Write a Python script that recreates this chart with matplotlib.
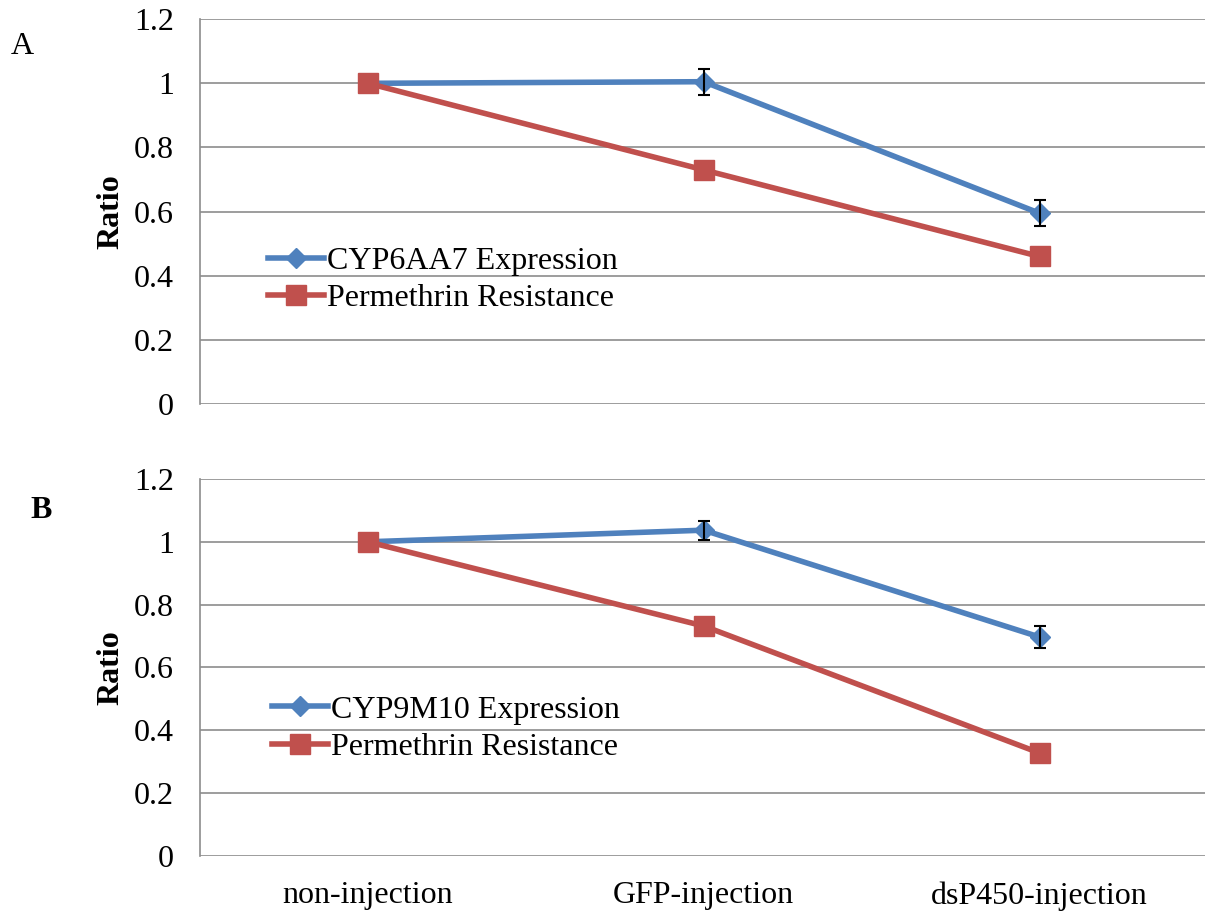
import matplotlib
matplotlib.use('Agg')
import matplotlib.pyplot as plt

plt.rcParams['font.family'] = ['Liberation Serif', 'DejaVu Serif']

categories = ['non-injection', 'GFP-injection', 'dsP450-injection']

# panel A
expr_a      = [1.0, 1.005, 0.595]
expr_a_err  = [0.0, 0.04, 0.04]
resist_a    = [1.0, 0.73, 0.46]

# panel B
expr_b      = [1.0, 1.037, 0.697]
expr_b_err  = [0.0, 0.03, 0.036]
resist_b    = [1.0, 0.732, 0.328]

yticks      = [0, 0.2, 0.4, 0.6, 0.8, 1.0, 1.2]
ytick_lbls  = ['0', '0.2', '0.4', '0.6', '0.8', '1', '1.2']

BLUE = '#4F81BD'
RED  = '#C0504D'
GRID = '#8C8C8C'
FS   = 23

fig = plt.figure(figsize=(12.05, 9.13), dpi=100)
ax_a = fig.add_axes([0.166, 0.5575, 0.836, 0.4215])
ax_b = fig.add_axes([0.166, 0.0624, 0.836, 0.4130])


def draw_panel(ax, expr, expr_err, resist, gene, legend_anchor, show_xlabels):
    x = list(range(len(categories)))
    expr_line, = ax.plot(x, expr, color=BLUE, lw=4, marker='D', markersize=10,
                         label=f'{gene} Expression', zorder=3)
    ax.errorbar(x, expr, yerr=expr_err, fmt='none', ecolor='black',
                elinewidth=1.5, capsize=4.3, capthick=1.5, zorder=4)
    resist_line, = ax.plot(x, resist, color=RED, lw=4, marker='s', markersize=14,
                           label='Permethrin Resistance', zorder=5)

    ax.set_xlim(-0.5, 2.5)
    ax.set_ylim(0, 1.2)
    ax.set_yticks(yticks)
    ax.set_yticklabels(ytick_lbls, fontsize=FS)
    ax.grid(axis='y', color=GRID, linewidth=1.2)
    ax.set_axisbelow(True)
    ax.set_ylabel('Ratio', fontsize=FS, fontweight='bold', labelpad=6)

    for side in ('top', 'right', 'bottom'):
        ax.spines[side].set_visible(False)
    ax.spines['left'].set_color(GRID)
    ax.spines['left'].set_linewidth(1.2)
    ax.tick_params(axis='y', length=0, pad=19)
    ax.tick_params(axis='x', length=0, pad=18)

    ax.set_xticks(x)
    if show_xlabels:
        ax.set_xticklabels(categories, fontsize=FS)
    else:
        ax.set_xticklabels([])

    ax.legend(handles=[expr_line, resist_line], loc='center left',
              bbox_to_anchor=legend_anchor, frameon=False, fontsize=FS,
              handlelength=1.75, handletextpad=0.1, labelspacing=0.25,
              borderpad=0, borderaxespad=0)


draw_panel(ax_a, expr_a, expr_a_err, resist_a, 'CYP6AA7', (0.0675, 0.322), False)
draw_panel(ax_b, expr_b, expr_b_err, resist_b, 'CYP9M10', (0.0715, 0.338), True)

fig.text(0.009, 0.949, 'A', fontsize=FS, va='center')
fig.text(0.025, 0.441, 'B', fontsize=FS, fontweight='bold', va='center')

fig.savefig('out.png', dpi=100)
